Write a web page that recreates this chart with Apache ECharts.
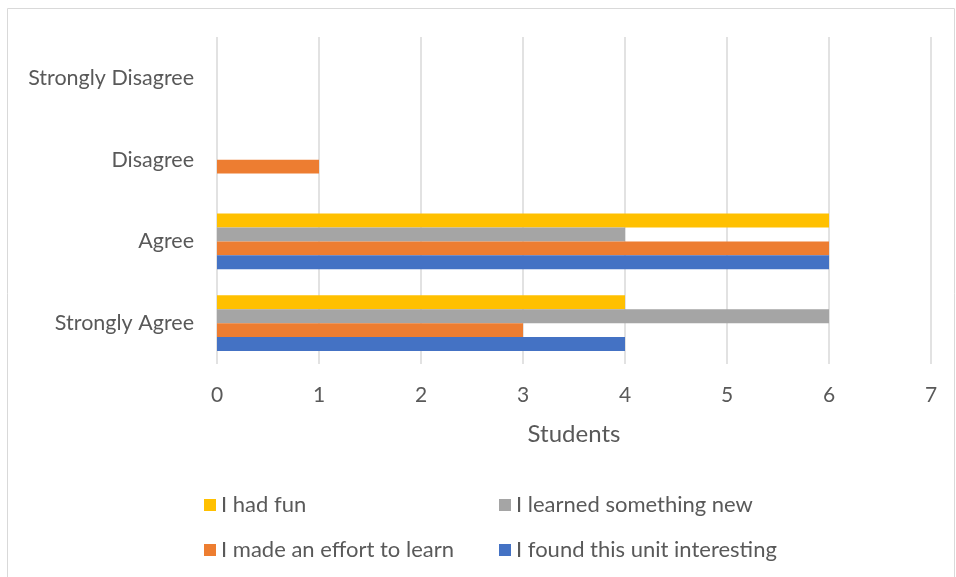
<!DOCTYPE html>
<html>
<head>
<meta charset="utf-8">
<script src="https://cdn.jsdelivr.net/npm/echarts@6/dist/echarts.min.js"></script>
<style>
html,body{margin:0;padding:0;background:#fff;}
#chart{width:956px;height:577px;}
</style>
</head>
<body>
<div id="chart"></div>
<script>
const categories = ['Strongly Agree', 'Agree', 'Disagree', 'Strongly Disagree'];
const seriesNames = ['I had fun', 'I learned something new', 'I made an effort to learn', 'I found this unit interesting'];
const hadFun = [4, 6, 0, 0];
const learnedNew = [6, 4, 0, 0];
const madeEffort = [3, 6, 1, 0];
const foundInteresting = [4, 6, 0, 0];
const xTicks = [0, 1, 2, 3, 4, 5, 6, 7];
const axisTitle = 'Students';

const colors = ['#FFC000', '#A5A5A5', '#ED7D31', '#4472C4'];
const values = [hadFun, learnedNew, madeEffort, foundInteresting];
const FONT = 'Lato';
const TXT = '#595959';

const chart = echarts.init(document.getElementById('chart'), null, {renderer: 'canvas'});
const legendCommon = {
  orient: 'vertical',
  itemWidth: 12,
  itemHeight: 12,
  itemGap: 23,
  padding: 0,
  icon: 'rect',
  textStyle: {fontFamily: FONT, fontSize: 22, lineHeight: 22, color: TXT},
  selectedMode: false
};
chart.setOption({
  animation: false,
  color: colors,
  graphic: [{
    type: 'rect',
    shape: {x: 7.5, y: 8.5, width: 947, height: 600},
    style: {fill: 'none', stroke: '#D9D9D9', lineWidth: 1}
  }],
  grid: {left: 217, right: 25, top: 37, bottom: 213, containLabel: false},
  legend: [
    Object.assign({}, legendCommon, {left: 204, top: 494, data: [seriesNames[0], seriesNames[2]]}),
    Object.assign({}, legendCommon, {left: 499, top: 494, data: [seriesNames[1], seriesNames[3]]})
  ],
  xAxis: {
    type: 'value',
    min: xTicks[0],
    max: xTicks[xTicks.length - 1],
    interval: 1,
    name: axisTitle,
    nameLocation: 'middle',
    nameGap: 58,
    nameTextStyle: {fontFamily: FONT, fontSize: 24, color: TXT},
    axisLine: {show: false},
    axisTick: {show: false},
    axisLabel: {fontFamily: FONT, fontSize: 21, color: TXT, margin: 21},
    splitLine: {show: true, lineStyle: {color: '#D9D9D9', width: 1.5}}
  },
  yAxis: {
    type: 'category',
    data: categories,
    axisLine: {show: false},
    axisTick: {show: false},
    axisLabel: {fontFamily: FONT, fontSize: 21.5, color: TXT, margin: 23}
  },
  series: seriesNames.map((n, i) => ({
    name: n,
    type: 'bar',
    data: values[i],
    barGap: '0%',
    barCategoryGap: '32%',
    itemStyle: {color: colors[i]}
  }))
});
</script>
</body>
</html>
